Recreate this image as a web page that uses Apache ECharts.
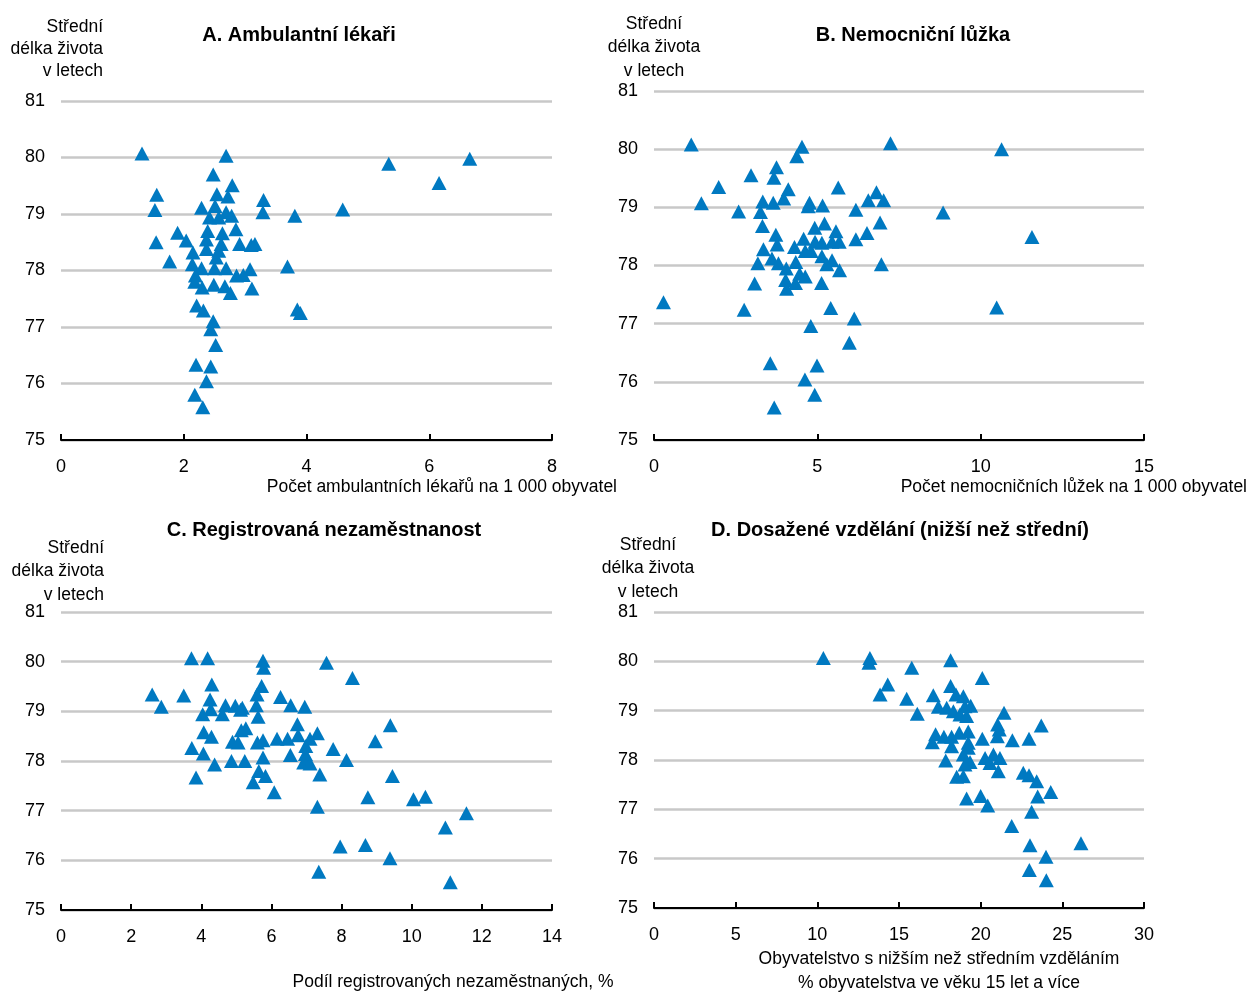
<!DOCTYPE html>
<html>
<head>
<meta charset="utf-8">
<script src="https://cdn.jsdelivr.net/npm/echarts@6/dist/echarts.min.js"></script>
<style>
html,body{margin:0;padding:0;background:#fff;}
#main{width:1249px;height:992px;}
</style>
</head>
<body>
<div id="main"></div>
<script>
// A. lekari na 1 000 obyvatel x stredni delka zivota
var lekariData = [
	[1.32,80.07],[2.69,80.03],[5.34,79.89],[6.66,79.98],[6.16,79.55],[4.59,79.08],[3.81,78.97],
	[2.48,79.70],[1.56,79.34],[1.53,79.07],[2.79,79.51],[2.54,79.35],[2.72,79.31],[2.29,79.11],
	[2.51,79.14],[3.30,79.25],[3.29,79.03],[2.69,79.03],[2.78,78.97],[2.42,78.94],[2.57,78.94],
	[1.90,78.67],[2.04,78.53],[1.55,78.50],[1.77,78.16],[2.15,78.32],[2.39,78.70],[2.63,78.66],
	[2.85,78.73],[2.37,78.55],[2.61,78.47],[2.91,78.47],[3.10,78.45],[3.16,78.47],[2.37,78.38],
	[2.57,78.35],[2.53,78.23],[2.14,78.11],[2.29,78.04],[2.50,78.04],[2.69,78.04],[2.86,77.91],
	[2.97,77.92],[3.08,78.02],[3.69,78.07],[2.19,77.91],[2.18,77.80],[2.30,77.70],[2.49,77.75],
	[2.67,77.72],[2.76,77.60],[3.11,77.68],[2.21,77.38],[2.32,77.29],[3.85,77.31],[3.90,77.25],
	[2.48,77.10],[2.44,76.96],[2.52,76.68],[2.20,76.33],[2.44,76.30],[2.37,76.04],[2.18,75.80],
	[2.31,75.58]
];
// B. nemocnicni luzka na 1 000 obyvatel
var luzkaData = [
	[1.14,80.08],[4.53,80.04],[7.24,80.10],[10.64,80.00],[4.37,79.88],[3.75,79.69],[2.97,79.55],
	[3.67,79.51],[1.98,79.35],[5.64,79.34],[4.11,79.31],[6.81,79.26],[1.45,79.07],[3.33,79.10],
	[3.65,79.08],[3.97,79.15],[4.76,79.08],[4.72,79.02],[5.16,79.03],[6.56,79.12],[7.03,79.12],
	[6.18,78.96],[2.59,78.93],[3.26,78.92],[8.85,78.91],[6.92,78.74],[3.32,78.68],[4.92,78.65],
	[5.22,78.72],[5.57,78.59],[6.52,78.56],[3.73,78.53],[11.57,78.49],[4.58,78.46],[4.93,78.41],
	[5.14,78.39],[5.45,78.41],[5.67,78.41],[6.18,78.45],[3.77,78.36],[4.30,78.32],[3.35,78.28],
	[4.63,78.25],[4.81,78.25],[5.14,78.16],[5.45,78.09],[3.61,78.12],[3.18,78.04],[3.81,78.04],
	[4.34,78.06],[5.29,78.02],[6.96,78.02],[4.05,77.95],[5.68,77.92],[4.46,77.86],[4.63,77.81],
	[4.03,77.75],[4.33,77.70],[4.06,77.60],[3.08,77.69],[5.13,77.70],[0.29,77.37],[2.76,77.24],
	[5.41,77.27],[10.49,77.28],[6.13,77.09],[4.80,76.96],[5.98,76.67],[3.56,76.32],[4.99,76.28],
	[4.62,76.04],[4.92,75.78],[3.68,75.56]
];
// C. registrovana nezamestnanost, %
var nezamData = [
	[3.72,80.07],[4.18,80.07],[5.76,80.02],[5.78,79.88],[7.57,79.98],[8.31,79.67],[4.30,79.54],
	[5.72,79.51],[2.60,79.34],[3.50,79.32],[5.59,79.34],[6.26,79.29],[4.25,79.24],[2.86,79.09],
	[5.57,79.12],[6.55,79.12],[6.95,79.09],[4.69,79.12],[4.97,79.11],[5.17,79.07],[4.27,79.04],
	[4.04,78.94],[4.60,78.94],[5.12,79.03],[5.62,78.89],[6.74,78.74],[9.39,78.72],[5.27,78.66],
	[5.14,78.62],[4.07,78.58],[4.29,78.49],[7.31,78.56],[6.76,78.52],[7.10,78.45],[6.16,78.45],
	[6.46,78.45],[5.76,78.42],[5.60,78.37],[4.89,78.39],[5.05,78.37],[8.96,78.40],[6.98,78.30],
	[3.73,78.26],[7.76,78.24],[4.06,78.15],[5.76,78.07],[6.54,78.12],[6.97,78.14],[7.00,78.05],
	[8.14,78.02],[4.86,78.00],[5.24,78.00],[6.92,77.97],[7.10,77.95],[4.38,77.93],[7.38,77.73],
	[9.45,77.70],[5.64,77.80],[5.83,77.70],[3.85,77.67],[5.48,77.57],[6.08,77.37],[8.75,77.27],
	[10.05,77.23],[10.39,77.28],[7.31,77.08],[11.56,76.95],[10.96,76.66],[7.96,76.28],[8.68,76.31],
	[9.38,76.04],[7.35,75.77],[11.10,75.56]
];
// D. obyvatelstvo s nizsim nez strednim vzdelanim, %
var vzdelaniData = [
	[10.37,80.07],[13.22,80.07],[13.16,79.97],[18.16,80.02],[15.78,79.87],[20.10,79.66],[14.31,79.53],
	[13.84,79.33],[15.47,79.24],[17.10,79.31],[18.16,79.50],[18.49,79.33],[18.94,79.29],[19.39,79.10],
	[17.41,79.08],[17.92,79.06],[18.33,78.99],[19.04,79.09],[18.73,78.92],[19.14,78.89],[16.12,78.94],
	[21.43,78.96],[23.71,78.70],[21.04,78.72],[21.14,78.62],[19.24,78.58],[17.24,78.52],[17.75,78.47],
	[18.22,78.47],[18.69,78.55],[20.10,78.43],[21.02,78.48],[21.94,78.40],[22.96,78.43],[17.04,78.36],
	[18.22,78.28],[19.24,78.35],[19.24,78.25],[18.94,78.11],[17.86,77.99],[20.27,78.04],[20.78,78.11],
	[21.18,78.04],[20.57,77.94],[19.35,77.96],[19.04,77.91],[21.08,77.77],[22.61,77.74],[22.96,77.69],
	[23.43,77.57],[18.53,77.66],[18.94,77.67],[24.29,77.35],[23.49,77.26],[19.14,77.22],[20.00,77.27],
	[20.43,77.08],[23.12,76.95],[21.90,76.66],[26.14,76.31],[23.02,76.27],[24.00,76.04],[22.98,75.77],
	[24.02,75.56]
];

var xMax = [8,15,14,30];
var xStep = [2,5,2,5];
var yMin = 75, yMax = 81, yStep = 1;

var titles = ['A. Ambulantní lékaři','B. Nemocniční lůžka','C. Registrovaná nezaměstnanost','D. Dosažené vzdělání (nižší než střední)'];
var yName = 'Střední\ndélka života\nv letech';

var FONT = '"Liberation Sans Narrow","Liberation Sans",Arial,sans-serif';
var BLUE = '#0079c1';

var grids = [
	{left:61,top:101,width:491,height:339},
	{left:654,top:91,width:490,height:349},
	{left:61,top:612,width:491,height:298},
	{left:654,top:612,width:490,height:296}
];

var xAxes = [], yAxes = [], series = [];
var allData = [lekariData,luzkaData,nezamData,vzdelaniData];
for(var i=0;i<4;i++){
	xAxes.push({
		gridIndex:i,type:'value',min:0,max:xMax[i],interval:xStep[i],
		axisLine:{lineStyle:{color:'#000',width:2}},
		axisTick:{inside:true,length:6,lineStyle:{color:'#000',width:2}},
		axisLabel:{color:'#000',fontSize:18,fontFamily:FONT,margin:18},
		splitLine:{show:false}
	});
	yAxes.push({
		gridIndex:i,type:'value',min:yMin,max:yMax,interval:yStep,
		axisLine:{show:false},axisTick:{show:false},
		axisLabel:{color:'#000',fontSize:18,fontFamily:FONT,margin:16},
		splitLine:{lineStyle:{color:'#c8c8c8',width:2.5}}
	});
	series.push({
		type:'scatter',xAxisIndex:i,yAxisIndex:i,
		data:allData[i],symbol:'triangle',symbolSize:[15,14],
		itemStyle:{color:BLUE,opacity:1},
		silent:true
	});
}

function txt(s,x,y,align,bold,lh,size){
	return {type:'text',style:{text:s,x:x,y:y,textAlign:align,textVerticalAlign:'top',
		font:(bold?'bold ':'')+(size||18)+'px '+FONT,fill:'#000',lineHeight:lh||22},x:0,y:0};
}

var graphics = [
	txt(titles[0],299,24,'center',true,22,20),
	txt(titles[1],913,24,'center',true,22,20),
	txt(titles[2],324,519,'center',true,22,20),
	txt(titles[3],900,519,'center',true,22,20),
	txt(yName,103,16,'right',false,22,17.5),
	txt(yName,654,12,'center',false,23.5,17.5),
	txt(yName,104,536,'right',false,23.5,17.5),
	txt(yName,648,533,'center',false,23.5,17.5),
	txt('Počet ambulantních lékařů na 1 000 obyvatel',617,476,'right',false,22,17.5),
	txt('Počet nemocničních lůžek na 1 000 obyvatel',1247,476,'right',false,22,17.5),
	txt('Podíl registrovaných nezaměstnaných, %',453,971,'center',false,22,17.5),
	txt('Obyvatelstvo s nižším než středním vzděláním\n% obyvatelstva ve věku 15 let a více',939,947,'center',false,24,17.5)
];

var myChart = echarts.init(document.getElementById('main'),null,{renderer:'canvas'});
var option = {
	backgroundColor:'#fff',
	animation:false,
	grid:grids,
	xAxis:xAxes,
	yAxis:yAxes,
	series:series,
	graphic:graphics
};
myChart.setOption(option);
</script>
</body>
</html>
